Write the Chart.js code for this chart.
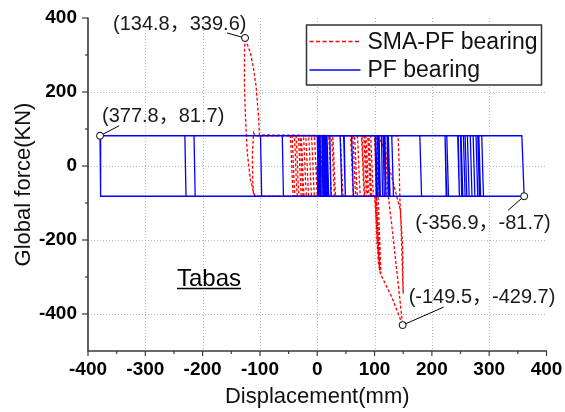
<!DOCTYPE html>
<html>
<head>
<meta charset="utf-8">
<script src="https://cdn.jsdelivr.net/npm/chart.js@4.4.1/dist/chart.umd.min.js"></script>
<style>
  html, body { margin: 0; padding: 0; background: #fff; }
</style>
</head>
<body>
<canvas id="graficoHisterese" width="565" height="412"></canvas>
<script>
// tick values
const xTicks = [-400, -300, -200, -100, 0, 100, 200, 300, 400];
const xMinor = [-350, -250, -150, -50, 50, 150, 250, 350];
const yTicks = [-400, -200, 0, 200, 400];
const yMinor = [-300, -100, 100, 300];

// PF bearing (one line per reversal)
const pfDisp = [
  0, 1,
  17, 14,
  0, 2,
  43, 40,
  5, 7,
  63, 60,
  10, 12,
  105, 102,
  22, 24,
  133, 130,
  101, 103,
  182, 179,
  112, 114,
  229, 226,
  118, 120,
  258, 255,
  124, 126,
  290, 287,
  108, 110,
  361, 357,
  223, 225,
  285, 282,
  246, 248,
  280, 277,
  250, 252,
  275, 272,
  -61, -59,
  49, 46,
  -99, -97,
  120, 117,
  -215, -213,
  270, 267,
  -231, -229,
  254, 251,
  -379, -378,
  265, 262,
  3, 5,
  20, 17,
  8, 10,
  15, 13,
  2, 4,
  108, 105,
  11, 13,
  127, 124,
  106, 108,
  226, 223,
  115, 117,
  261, 258,
  122, 124,
  283, 280,
  47, 49,
  248, 245,
  9, 11,
  19, 16
];
const pfForce = [
  0, -81.7,
  -81.7, 81.7,
  81.7, -81.7,
  -81.7, 81.7,
  81.7, -81.7,
  -81.7, 81.7,
  81.7, -81.7,
  -81.7, 81.7,
  81.7, -81.7,
  -81.7, 81.7,
  81.7, -81.7,
  -81.7, 81.7,
  81.7, -81.7,
  -81.7, 81.7,
  81.7, -81.7,
  -81.7, 81.7,
  81.7, -81.7,
  -81.7, 81.7,
  81.7, -81.7,
  -81.7, 81.7,
  81.7, -81.7,
  -81.7, 81.7,
  81.7, -81.7,
  -81.7, 81.7,
  81.7, -81.7,
  -81.7, 81.7,
  81.7, -81.7,
  -81.7, 81.7,
  81.7, -81.7,
  -81.7, 81.7,
  81.7, -81.7,
  -81.7, 81.7,
  81.7, -81.7,
  -81.7, 81.7,
  81.7, -81.7,
  -81.7, 81.7,
  81.7, -81.7,
  -81.7, 81.7,
  81.7, -81.7,
  -81.7, 81.7,
  81.7, -81.7,
  -81.7, 81.7,
  81.7, -81.7,
  -81.7, 81.7,
  81.7, -81.7,
  -81.7, 81.7,
  81.7, -81.7,
  -81.7, 81.7,
  81.7, -81.7,
  -81.7, 81.7,
  81.7, -81.7,
  -81.7, 81.7,
  81.7, -81.7,
  -81.7, 81.7
];

// SMA-PF bearing (one line per branch)
const smaDisp = [
  0, 2,
  20, 18.5, 17.5, 16.5, 15,
  -15, -13.5, -12.5, -11.5, -10,
  45, 43.5, 42.5, 41.5, 40,
  -33, -31.5, -30.5, -29.5, -28,
  67, 65.5, 64.5, 63.5, 62,
  -47, -45.5, -44.5, -43.5, -42,
  32, 30.5, 29.5, 28.5, 27,
  -40, -38.5, -37.5, -36.5, -35,
  82, 80.5, 79.5, 78.5, 77,
  -24, -22.5, -21.5, -20.5, -19,
  90, 88.5, 87.5, 86.5, 85,
  -5, -3.5, -2.5, -1.5, 0,
  75, 73.5, 72.5, 71.5, 70,
  -101, -102, -104.4, -106.7, -110.8, -116.5, -126, -127, -127, -125, -122, -116.5, -110.8, -108,
  95, 93.5, 92.5, 91.5, 90,
  -109, -111, -113, -113, -112.5, -111,
  63, 61.5, 60.5, 59.5, 58,
  -37, -35.5, -34.5, -33.5, -32,
  100, 103, 106, 109, 106, 103, 102, 101.5, 101, 100,
  -10, -8.5, -7.5, -6.5, -5,
  101, 104, 107, 110, 113, 130, 149, 140, 130, 124, 122, 121, 120, 118,
  25, 26.5, 27.5, 28.5, 30,
  103, 105, 108, 111, 109, 107, 106, 105, 104,
  78, 79.5, 80.5, 81.5, 83,
  86, 84.5, 83.5, 82.5, 81,
  5, 6.5, 7.5, 8.5, 10,
  120, 119, 118, 117, 116,
  105, 113, 125, 135, 145, 149, 149.5, 150, 148, 146, 144, 143, 141,
  -20, -18.5, -17.5, -16.5, -15,
  88, 86.5, 85.5, 84.5, 83,
  -44, -42.5, -41.5, -40.5, -39,
  70, 68.5, 67.5, 66.5, 65,
  -28, -26.5, -25.5, -24.5, -23,
  93, 91.5, 90.5, 89.5, 88,
  20, 21.5, 22.5, 23.5, 25,
  98, 96.5, 95.5, 94.5, 93,
  -30, -28.5, -27.5, -26.5, -25,
  5, 8
];
const smaForce = [
  0, -81.7,
  -81.7, -40, 0, 40, 81.7,
  81.7, 40, 0, -40, -81.7,
  -81.7, -40, 0, 40, 81.7,
  81.7, 40, 0, -40, -81.7,
  -81.7, -40, 0, 40, 81.7,
  81.7, 40, 0, -40, -81.7,
  -81.7, -40, 0, 40, 81.7,
  81.7, 40, 0, -40, -81.7,
  -81.7, -40, 0, 40, 81.7,
  81.7, 40, 0, -40, -81.7,
  -81.7, -40, 0, 40, 81.7,
  81.7, 40, 0, -40, -81.7,
  -81.7, -40, 0, 40, 81.7,
  84, 125, 170, 215, 260, 305, 346, 305, 215, 125, 34, -38, -74, -81.7,
  -81.7, -40, 0, 40, 81.7,
  81.7, 89, 40, 0, -40, -81.7,
  -81.7, -40, 0, 40, 81.7,
  81.7, 40, 0, -40, -81.7,
  -81.7, -150, -220, -282, -180, -81.7, -40, 0, 40, 81.7,
  81.7, 40, 0, -40, -81.7,
  -81.7, -200, -265, -290, -300, -354, -430, -300, -160, -83, -40, 0, 40, 81.7,
  81.7, 40, 0, -40, -81.7,
  -81.7, -150, -240, -290, -200, -120, -81.7, 0, 81.7,
  81.7, 40, 0, -40, -81.7,
  -81.7, -40, 0, 40, 81.7,
  81.7, 40, 0, -40, -81.7,
  -81.7, -40, 0, 40, 81.7,
  81.7, 61, 0, -60, -119, -219, -300, -345, -250, -150, -81.7, 0, 81.7,
  81.7, 40, 0, -40, -81.7,
  -81.7, -40, 0, 40, 81.7,
  81.7, 40, 0, -40, -81.7,
  -81.7, -40, 0, 40, 81.7,
  81.7, 40, 0, -40, -81.7,
  -81.7, -40, 0, 40, 81.7,
  81.7, 40, 0, -40, -81.7,
  -81.7, -40, 0, 40, 81.7,
  81.7, 40, 0, -40, -81.7,
  -81.7, 0
];

// marked peaks
const markDisp = [-126, -379, 361, 149];
const markForce = [346, 81.7, -81.7, -430];
const markText = ['(134.8，339.6)', '(377.8，81.7)', '(-356.9，-81.7)', '(-149.5，-429.7)'];

const seriesNames = ['SMA-PF bearing', 'PF bearing'];
const caseName = 'Tabas';

// label placement relative to each marker (px): text start, leader end
const labelPos = [
  { tx: -132, ty: -13, lx: -18, ly: -5 },
  { tx: 2, ty: -19, lx: 19, ly: -10 },
  { tx: -109, ty: 27, lx: -16, ly: 14 },
  { tx: 6, ty: -28, lx: 41, ly: -18 }
];

const FONTE = '"Liberation Sans", Arial, "Noto Sans CJK SC", sans-serif';
const toPts = (xs, ys) => xs.map((v, i) => ({ x: v, y: ys[i] }));

const decoracao = {
  id: 'decoracao',
  beforeDatasetsDraw(chart) {
    const { ctx, chartArea: a, scales: { x, y } } = chart;
    ctx.save();
    ctx.strokeStyle = '#b8b8b8';
    ctx.lineWidth = 1;
    ctx.setLineDash([1, 2]);
    xTicks.forEach(v => {
      const px = Math.round(x.getPixelForValue(v)) + 0.5;
      if (px <= a.left + 2 || px >= a.right - 2) return;
      ctx.beginPath(); ctx.moveTo(px, a.top); ctx.lineTo(px, a.bottom); ctx.stroke();
    });
    yTicks.forEach(v => {
      const py = Math.round(y.getPixelForValue(v)) + 0.5;
      if (py <= a.top + 2 || py >= a.bottom - 2) return;
      ctx.beginPath(); ctx.moveTo(a.left, py); ctx.lineTo(a.right, py); ctx.stroke();
    });
    ctx.setLineDash([]);

    // leaders
    ctx.strokeStyle = '#000';
    ctx.lineWidth = 1;
    markDisp.forEach((v, i) => {
      const px = x.getPixelForValue(v), py = y.getPixelForValue(markForce[i]);
      const p = labelPos[i];
      ctx.beginPath(); ctx.moveTo(px, py); ctx.lineTo(px + p.lx, py + p.ly); ctx.stroke();
    });
    ctx.restore();
  },
  afterDatasetsDraw(chart) {
    const { ctx, chartArea: a, scales: { x, y } } = chart;
    ctx.save();

    // axes
    ctx.strokeStyle = '#3a3a3a';
    ctx.lineWidth = 1.6;
    ctx.beginPath();
    ctx.moveTo(a.left, a.top - 0.5);
    ctx.lineTo(a.left, a.bottom);
    ctx.lineTo(a.right + 0.5, a.bottom);
    ctx.stroke();
    ctx.lineWidth = 1.2;
    xTicks.forEach(v => {
      const px = x.getPixelForValue(v);
      ctx.beginPath(); ctx.moveTo(px, a.bottom); ctx.lineTo(px, a.bottom + 5); ctx.stroke();
    });
    xMinor.forEach(v => {
      const px = x.getPixelForValue(v);
      ctx.beginPath(); ctx.moveTo(px, a.bottom); ctx.lineTo(px, a.bottom + 3); ctx.stroke();
    });
    yTicks.forEach(v => {
      const py = y.getPixelForValue(v);
      ctx.beginPath(); ctx.moveTo(a.left, py); ctx.lineTo(a.left - 6, py); ctx.stroke();
    });
    yMinor.forEach(v => {
      const py = y.getPixelForValue(v);
      ctx.beginPath(); ctx.moveTo(a.left, py); ctx.lineTo(a.left - 3, py); ctx.stroke();
    });

    // legend
    const lx = a.right - 240, ly = a.top + 7, lw = 235, lh = 60;
    ctx.fillStyle = '#fff';
    ctx.fillRect(lx, ly, lw, lh);
    ctx.strokeStyle = '#333';
    ctx.lineWidth = 1.5;
    ctx.strokeRect(lx, ly, lw, lh);
    const amostras = [
      { cor: '#ff0000', dash: [4, 2.5], y: ly + 16.5 },
      { cor: '#0000ff', dash: [], y: ly + 45 }
    ];
    ctx.font = '23px ' + FONTE;
    ctx.textBaseline = 'middle';
    ctx.textAlign = 'left';
    amostras.forEach((s, i) => {
      ctx.strokeStyle = s.cor;
      ctx.lineWidth = 1.3;
      ctx.setLineDash(s.dash);
      ctx.beginPath(); ctx.moveTo(lx + 3, s.y); ctx.lineTo(lx + 54, s.y); ctx.stroke();
      ctx.setLineDash([]);
      ctx.fillStyle = '#111';
      ctx.fillText(seriesNames[i], lx + 61, s.y + 1);
    });

    // peak labels
    ctx.font = '20px ' + FONTE;
    ctx.fillStyle = '#1a1a1a';
    markDisp.forEach((v, i) => {
      const px = x.getPixelForValue(v), py = y.getPixelForValue(markForce[i]);
      const p = labelPos[i];
      ctx.fillText(markText[i], px + p.tx, py + p.ty);
    });

    // record name, underlined
    ctx.font = '24px ' + FONTE;
    ctx.fillStyle = '#000';
    ctx.textAlign = 'center';
    ctx.textBaseline = 'alphabetic';
    const tx = a.left + 121, ty = a.bottom - 65;
    ctx.fillText(caseName, tx, ty);
    const w = ctx.measureText(caseName).width;
    ctx.lineWidth = 1.5;
    ctx.strokeStyle = '#000';
    ctx.beginPath(); ctx.moveTo(tx - w / 2, ty + 2.5); ctx.lineTo(tx + w / 2, ty + 2.5); ctx.stroke();

    ctx.restore();
  }
};

const ctx = document.getElementById('graficoHisterese').getContext('2d');
const chart = new Chart(ctx, {
  type: 'scatter',
  data: {
    datasets: [
      {
        label: 'markers',
        data: toPts(markDisp, markForce),
        showLine: false,
        pointRadius: 3.5,
        pointBackgroundColor: '#fff',
        pointBorderColor: '#000',
        pointBorderWidth: 1,
        order: 0
      },
      {
        label: seriesNames[1],
        data: toPts(pfDisp, pfForce),
        showLine: true,
        borderColor: '#0000ff',
        borderWidth: 1.3,
        pointRadius: 0,
        tension: 0,
        order: 1
      },
      {
        label: seriesNames[0],
        data: toPts(smaDisp, smaForce),
        showLine: true,
        borderColor: '#ff0000',
        borderWidth: 1.3,
        borderDash: [3, 2],
        pointRadius: 0,
        tension: 0,
        order: 2
      }
    ]
  },
  options: {
    responsive: false,
    animation: false,
    layout: { autoPadding: false, padding: { top: 18, right: 18.5, left: 0, bottom: 0 } },
    plugins: { legend: { display: false }, tooltip: { enabled: false } },
    scales: {
      x: {
        type: 'linear',
        min: -400,
        max: 400,
        afterBuildTicks: s => { s.ticks = xTicks.map(v => ({ value: v })); },
        afterFit: s => { s.height = 61; },
        grid: { display: false, drawTicks: true, tickLength: 7 },
        border: { display: false },
        ticks: { color: '#000', padding: 0, font: { family: FONTE, size: 19, weight: 'bold' } },
        title: { display: true, text: 'Displacement(mm)', color: '#111', padding: { top: 0, bottom: 2 }, font: { family: FONTE, size: 22 } }
      },
      y: {
        type: 'linear',
        min: -500,
        max: 400,
        afterBuildTicks: s => { s.ticks = yTicks.map(v => ({ value: v })); },
        afterFit: s => { s.width = 88; },
        grid: { display: false, drawTicks: true, tickLength: 11 },
        border: { display: false },
        ticks: { color: '#000', padding: 0, font: { family: FONTE, size: 19, weight: 'bold' } },
        title: { display: true, text: 'Global force(KN)', color: '#111', padding: { top: 11, bottom: 0 }, font: { family: FONTE, size: 22 } }
      }
    }
  },
  plugins: [decoracao]
});
</script>
</body>
</html>
